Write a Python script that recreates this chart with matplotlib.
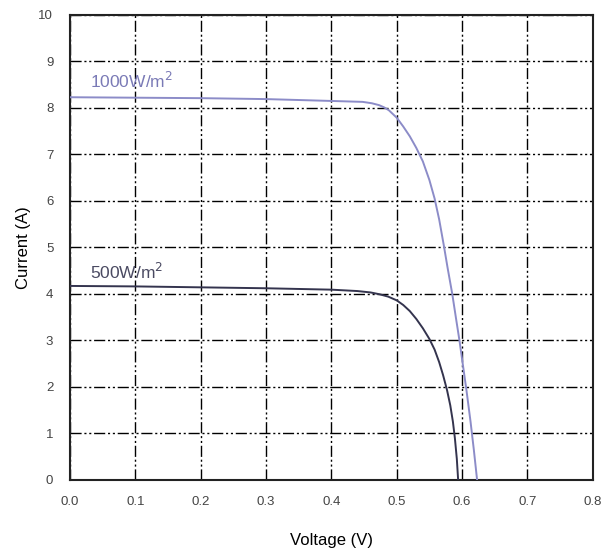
import numpy as np
import matplotlib.pyplot as plt

plt.rcParams['font.family'] = ['Liberation Sans', 'DejaVu Sans']

# I-V curves
v_1000 = [0.0, 0.1, 0.2, 0.3, 0.4, 0.448, 0.462, 0.473, 0.481, 0.488, 0.5, 0.51, 0.52, 0.53,
          0.54, 0.55, 0.558, 0.565, 0.572, 0.578, 0.585, 0.591, 0.596, 0.602, 0.607, 0.613, 0.618, 0.623]
i_1000 = [8.23, 8.22, 8.21, 8.19, 8.15, 8.13, 8.10, 8.06, 8.01, 7.95, 7.79, 7.6, 7.39, 7.14,
          6.85, 6.45, 6.05, 5.6, 5.05, 4.55, 4.0, 3.45, 3.0, 2.4, 1.9, 1.25, 0.65, 0.0]

v_500 = [0.0, 0.1, 0.2, 0.3, 0.4, 0.44, 0.46, 0.474, 0.487, 0.5, 0.51, 0.52, 0.53, 0.54,
         0.55, 0.558, 0.565, 0.571, 0.577, 0.582, 0.586, 0.589, 0.592, 0.594]
i_500 = [4.17, 4.16, 4.14, 4.12, 4.09, 4.06, 4.03, 3.99, 3.94, 3.86, 3.76, 3.63, 3.46, 3.26,
         3.03, 2.8, 2.53, 2.25, 1.93, 1.6, 1.25, 0.9, 0.45, 0.0]

labels = ['1000W/m$^2$', '500W/m$^2$']
label_pos = [(0.03, 8.57), (0.03, 4.47)]
line_colors = ['#8c8cc8', '#34344e']
text_colors = ['#7a7ab6', '#4a4a62']

xticks = [0.0, 0.1, 0.2, 0.3, 0.4, 0.5, 0.6, 0.7, 0.8]
yticks = list(range(0, 11))

fig = plt.figure(figsize=(6.03, 5.54), dpi=100)
ax = fig.add_axes([0.116, 0.134, 0.867, 0.839])

ax.plot(v_1000, i_1000, color=line_colors[0], lw=1.4, zorder=3)
ax.plot(v_500, i_500, color=line_colors[1], lw=1.4, zorder=3)

for lab, (x, y), c in zip(labels, label_pos, text_colors):
    ax.text(x, y, lab, color=c, fontsize=12.5, va='center', ha='left')

ax.set_xlim(0, 0.8)
ax.set_ylim(0, 10)
ax.set_xticks(xticks)
ax.set_xticklabels(['%.1f' % t for t in xticks])
ax.set_yticks(yticks)
ax.tick_params(length=0, labelsize=9.5, labelcolor='#444444')
ax.tick_params(axis='x', pad=12)
ax.tick_params(axis='y', pad=12)
ax.grid(True, color='black', lw=1.0, linestyle=(0, (8, 2, 1.5, 2, 1.5, 2)))
for s in ax.spines.values():
    s.set_linewidth(1.5)
    s.set_color('#222222')

ax.set_xlabel('Voltage (V)', fontsize=12, labelpad=18)
ax.set_ylabel('Current (A)', fontsize=12, labelpad=5)

fig.savefig('out.png', dpi=100)
